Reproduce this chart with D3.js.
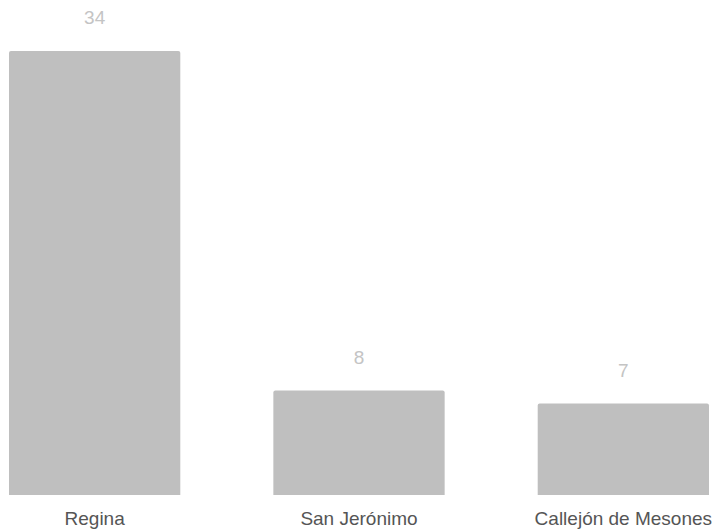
<!DOCTYPE html>
<html>
<head>
<meta charset="utf-8">
<script src="https://cdn.jsdelivr.net/npm/d3@7"></script>
<style>
	body { margin: 0; background: #fff; }
	svg { display: block; }
	.val { font-family: "Liberation Sans", Arial, sans-serif; font-size: 19px; fill: #c4c4c4; text-anchor: middle; }
	.cat { font-family: "Liberation Sans", Arial, sans-serif; font-size: 19px; fill: #555; text-anchor: middle; }
</style>
</head>
<body>
<svg id="chart"></svg>
<script>
var categories = ['Regina', 'San Jerónimo', 'Callejón de Mesones']
var values = [34, 8, 7]

var W = 719, H = 529
var svg = d3.select('#chart').attr('width', W).attr('height', H)

// plot area bounds
var left = 9, right = 709, bottom = 495, top_ = 51

var x = d3.scaleBand()
	.domain(categories)
	.range([left, right])
	.paddingInner(0.352)
	.paddingOuter(0)
var y = d3.scaleLinear()
	.domain([0, d3.max(values)])
	.range([bottom, top_])

var data = categories.map(function(c, i) { return {cat: c, val: values[i]} })

// bars with slightly rounded top corners
function barPath(d)
{
	var x0 = x(d.cat), x1 = x0 + x.bandwidth(), y0 = y(d.val), r = 2
	return 'M' + x0 + ',' + bottom + 'L' + x0 + ',' + (y0 + r) +
		'Q' + x0 + ',' + y0 + ' ' + (x0 + r) + ',' + y0 +
		'L' + (x1 - r) + ',' + y0 +
		'Q' + x1 + ',' + y0 + ' ' + x1 + ',' + (y0 + r) +
		'L' + x1 + ',' + bottom + 'Z'
}

svg.selectAll('path.bar').data(data).enter().append('path')
	.attr('class', 'bar')
	.attr('d', barPath)
	.attr('fill', '#bfbfbf')

svg.selectAll('text.val').data(data).enter().append('text')
	.attr('class', 'val')
	.attr('x', function(d) { return x(d.cat) + x.bandwidth() / 2 })
	.attr('y', function(d) { return y(d.val) - 27 })
	.text(function(d) { return d.val })

svg.selectAll('text.cat').data(data).enter().append('text')
	.attr('class', 'cat')
	.attr('x', function(d) { return x(d.cat) + x.bandwidth() / 2 })
	.attr('y', 525)
	.text(function(d) { return d.cat })
</script>
</body>
</html>
